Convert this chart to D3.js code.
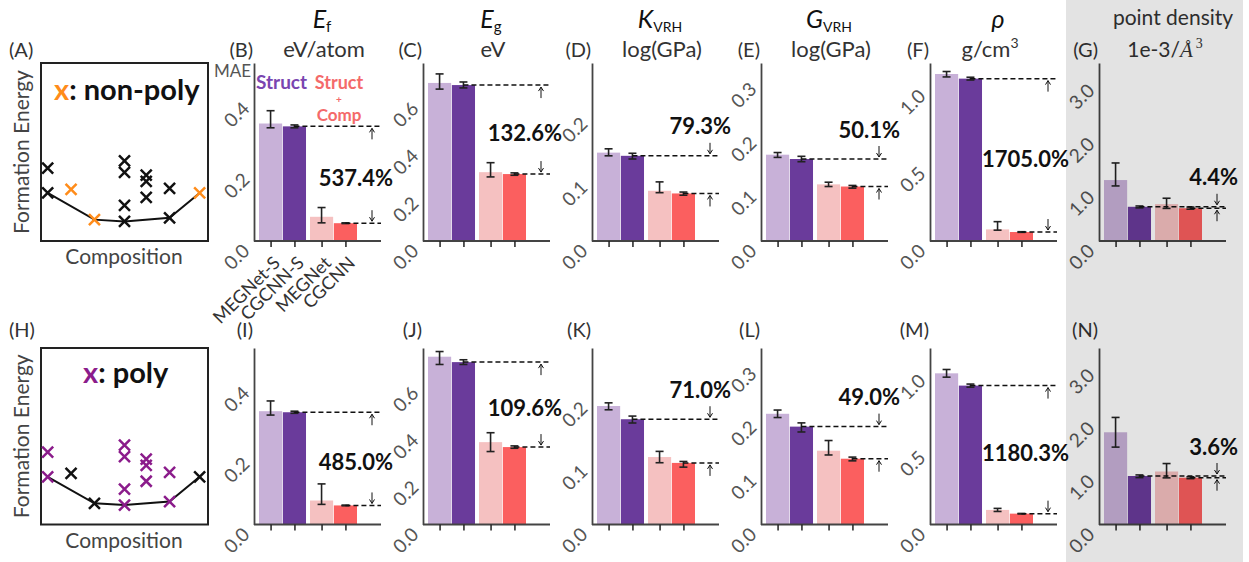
<!DOCTYPE html>
<html>
<head>
<meta charset="utf-8">
<script src="https://cdn.jsdelivr.net/npm/d3@7"></script>
<style>
  body { margin: 0; background: #fff; }
  text { font-family: Lato, "Open Sans", sans-serif; }
</style>
</head>
<body>
<script>
const width = 1249;
const height = 562;

// models and their groups
const models = ["MEGNet-S", "CGCNN-S", "MEGNet", "CGCNN"];
const modelGroups = ["Struct", "Struct", "Struct+Comp", "Struct+Comp"];
const barColors = ["#c8b1d8", "#6a3b9b", "#f5c1c1", "#fb5f5f"];

// per property axis setup
const lettersTop = ["B", "C", "D", "E", "F", "G"];
const lettersBottom = ["I", "J", "K", "L", "M", "N"];
const yMax = [0.5, 0.75, 0.28, 0.33, 1.15, 3.33];
const yTicks = [[0, 0.2, 0.4], [0, 0.2, 0.4, 0.6], [0, 0.1, 0.2], [0, 0.1, 0.2, 0.3], [0, 0.5, 1.0], [0, 1, 2, 3]];

// MAE, non-polymorph test set (top row)
const maeNonPoly = [
  [0.330, 0.322, 0.068, 0.050],
  [0.666, 0.657, 0.290, 0.282],
  [0.139, 0.134, 0.079, 0.0748],
  [0.160, 0.152, 0.105, 0.101],
  [1.079, 1.049, 0.075, 0.058],
  [1.14, 0.64, 0.69, 0.613]
];
const errLowNonPoly = [
  [0.318, 0.318, 0.051, 0.049],
  [0.640, 0.645, 0.270, 0.277],
  [0.134, 0.129, 0.076, 0.072],
  [0.155, 0.147, 0.101, 0.098],
  [1.060, 1.040, 0.070, 0.056],
  [1.03, 0.62, 0.61, 0.595]
];
const errHighNonPoly = [
  [0.366, 0.326, 0.094, 0.051],
  [0.704, 0.670, 0.330, 0.287],
  [0.145, 0.138, 0.093, 0.077],
  [0.164, 0.157, 0.109, 0.103],
  [1.095, 1.058, 0.125, 0.060],
  [1.46, 0.655, 0.80, 0.635]
];
const pctNonPoly = ["537.4%", "132.6%", "79.3%", "50.1%", "1705.0%", "4.4%"];

// MAE, polymorph test set (bottom row)
const maePoly = [
  [0.321, 0.318, 0.068, 0.054],
  [0.713, 0.690, 0.350, 0.329],
  [0.188, 0.167, 0.107, 0.0977],
  [0.207, 0.183, 0.138, 0.123],
  [0.985, 0.905, 0.095, 0.0707],
  [1.74, 0.915, 1.00, 0.883]
];
const errLowPoly = [
  [0.310, 0.315, 0.057, 0.053],
  [0.680, 0.680, 0.310, 0.324],
  [0.182, 0.161, 0.098, 0.091],
  [0.200, 0.173, 0.130, 0.119],
  [0.960, 0.895, 0.085, 0.069],
  [1.46, 0.885, 0.88, 0.865]
];
const errHighPoly = [
  [0.350, 0.321, 0.115, 0.055],
  [0.735, 0.700, 0.390, 0.334],
  [0.193, 0.172, 0.116, 0.100],
  [0.214, 0.190, 0.157, 0.126],
  [1.010, 0.915, 0.105, 0.072],
  [2.02, 0.935, 1.15, 0.90]
];
const pctPoly = ["485.0%", "109.6%", "71.0%", "49.0%", "1180.3%", "3.6%"];

// schematic convex hull points (composition, formation energy, is polymorph)
const hullComp = [0.04, 0.04, 0.18, 0.32, 0.50, 0.50, 0.50, 0.50, 0.63, 0.63, 0.63, 0.77, 0.77, 0.95];
const hullEnergy = [0.41, 0.27, 0.29, 0.12, 0.45, 0.385, 0.20, 0.11, 0.37, 0.335, 0.245, 0.295, 0.13, 0.27];
const hullPoly = [1, 1, 0, 0, 1, 1, 1, 1, 1, 1, 1, 1, 1, 0];

// layout
const rows = [{ top: 63, base: 241 }, { top: 348, base: 524.5 }];
const panelX0 = 254, panelStep = 169, panelW = 127;

const svg = d3.select("body").append("svg").attr("width", width).attr("height", height);

function arrow(g, x, y1, y2) {
  const dir = Math.sign(y2 - y1);
  g.append("line").attr("x1", x).attr("x2", x).attr("y1", y1).attr("y2", y2)
    .attr("stroke", "#111").attr("stroke-width", 1);
  g.append("path").attr("d", `M${x - 2.5},${y2 - dir * 4}L${x},${y2}L${x + 2.5},${y2 - dir * 4}`)
    .attr("fill", "none").attr("stroke", "#111").attr("stroke-width", 1);
}

function drawPanel(r, p, vals, lo, hi, pct) {
  const top = rows[r].top, base = rows[r].base;
  const g = svg.append("g").attr("transform", `translate(${panelX0 + p * panelStep},0)`);

  const y = d3.scaleLinear().domain([0, yMax[p]]).range([base, top]);
  const xOuter = d3.scaleBand().domain(["Struct", "Struct+Comp"]).range([5, 103]).paddingInner(0.078);
  const xInner = d3.scaleBand().domain([0, 1]).range([0, xOuter.bandwidth()]).paddingInner(0.03);
  const bw = xInner.bandwidth();
  const barX = i => xOuter(modelGroups[i]) + xInner(i % 2);
  const cx = i => barX(i) + bw / 2;

  g.selectAll("rect.bar").data(vals).enter().append("rect")
    .attr("class", "bar")
    .attr("x", (d, i) => barX(i))
    .attr("y", d => y(d))
    .attr("width", bw)
    .attr("height", d => base - y(d))
    .attr("fill", (d, i) => barColors[i]);

  // error bars
  models.forEach((m, i) => {
    const x = cx(i);
    g.append("line").attr("x1", x).attr("x2", x).attr("y1", y(lo[i])).attr("y2", y(hi[i]))
      .attr("stroke", "#222").attr("stroke-width", 1.6);
    [lo[i], hi[i]].forEach(v => {
      g.append("line").attr("x1", x - 4).attr("x2", x + 4).attr("y1", y(v)).attr("y2", y(v))
        .attr("stroke", "#222").attr("stroke-width", 1.6);
    });
  });

  // y axis
  const yAxis = g.append("g")
    .call(d3.axisLeft(y).tickValues(yTicks[p]).tickSize(0).tickSizeOuter(0).tickFormat(d3.format(".1f")));
  yAxis.select(".domain").attr("stroke", "#444").attr("stroke-width", 1.8);
  yAxis.selectAll("text")
    .attr("x", 0).attr("dy", 0)
    .attr("text-anchor", "end")
    .attr("dominant-baseline", "hanging")
    .attr("transform", "translate(-14,0) rotate(-45)")
    .attr("font-size", "19px")
    .attr("font-family", "Lato, sans-serif")
    .attr("fill", "#555");

  // x axis
  const xPos = d3.scaleOrdinal().domain(models).range(models.map((m, i) => cx(i)));
  g.append("line").attr("x1", 0).attr("x2", panelW).attr("y1", base).attr("y2", base)
    .attr("stroke", "#444").attr("stroke-width", 1.8);
  const xAxis = g.append("g").attr("transform", `translate(0,${base})`)
    .call(d3.axisBottom(xPos).tickSize(6).tickSizeOuter(0));
  xAxis.select(".domain").remove();
  xAxis.selectAll("line").attr("stroke", "#222").attr("stroke-width", 1.5);
  if (r === 0 && p === 0) {
    xAxis.selectAll("text")
      .attr("y", 0).attr("dy", 0)
      .attr("text-anchor", "end")
      .attr("dominant-baseline", "hanging")
      .attr("transform", "translate(0,13) rotate(-45)")
      .attr("font-size", "18px")
      .attr("font-family", "Lato, sans-serif")
      .attr("fill", "#333");
  } else {
    xAxis.selectAll("text").remove();
  }

  // reference lines + improvement annotation
  const yTop = y(vals[1]), yBot = y(vals[3]);
  g.append("line").attr("x1", cx(1)).attr("x2", panelW).attr("y1", yTop).attr("y2", yTop)
    .attr("stroke", "#111").attr("stroke-width", 1.5).attr("stroke-dasharray", "5,3");
  g.append("line").attr("x1", cx(3)).attr("x2", panelW).attr("y1", yBot).attr("y2", yBot)
    .attr("stroke", "#111").attr("stroke-width", 1.5).attr("stroke-dasharray", "5,3");
  const ax = panelW - 9;
  const inside = (yBot - yTop) > 50;
  let labelY;
  if (inside) {
    arrow(g, ax, yTop + 13, yTop + 2);
    arrow(g, ax, yBot - 13, yBot - 2);
    labelY = (yTop + yBot) / 2 + 6;
  } else {
    arrow(g, ax, yTop - 13, yTop - 2);
    arrow(g, ax, yBot + 13, yBot + 2);
    labelY = yTop - 27;
  }
  g.append("text").attr("x", panelW + 12).attr("y", labelY)
    .attr("text-anchor", "end").attr("dominant-baseline", "middle")
    .attr("font-size", "22px").attr("font-weight", "bold").attr("fill", "#111")
    .text(pct);

  // panel letter
  g.append("text").attr("x", -1).attr("y", r === 0 ? 57 : 337)
    .attr("text-anchor", "end").attr("font-size", "20px").attr("fill", "#333")
    .text("(" + (r === 0 ? lettersTop[p] : lettersBottom[p]) + ")");
  return g;
}

for (let p = 0; p < 6; p++) {
  drawPanel(0, p, maeNonPoly[p], errLowNonPoly[p], errHighNonPoly[p], pctNonPoly[p]);
  drawPanel(1, p, maePoly[p], errLowPoly[p], errHighPoly[p], pctPoly[p]);
}

// titles for the top row
const serif = "'Liberation Serif', 'DejaVu Serif', serif";
function title(p) {
  const t = svg.append("text").attr("x", panelX0 + p * panelStep + 68).attr("y", 28)
    .attr("text-anchor", "middle").attr("fill", "#111");
  return t;
}
let t = title(0).attr("font-family", serif).attr("font-size", "25px");
t.append("tspan").attr("font-style", "italic").text("E");
t.append("tspan").attr("font-size", "15px").attr("dy", 4).text("f");
t = title(1).attr("font-family", serif).attr("font-size", "25px");
t.append("tspan").attr("font-style", "italic").text("E");
t.append("tspan").attr("font-size", "15px").attr("dy", 4).text("g");
t = title(2).attr("font-family", serif).attr("font-size", "25px");
t.append("tspan").attr("font-style", "italic").text("K");
t.append("tspan").attr("font-size", "14px").attr("dy", 4).text("VRH");
t = title(3).attr("font-family", serif).attr("font-size", "25px");
t.append("tspan").attr("font-style", "italic").text("G");
t.append("tspan").attr("font-size", "14px").attr("dy", 4).text("VRH");
t = title(4).attr("font-family", serif).attr("font-size", "25px");
t.append("tspan").attr("font-style", "italic").text("ρ");
title(5).attr("y", 25).attr("font-size", "21px").attr("fill", "#333").attr("dx", 6).text("point density");

const units = ["eV/atom", "eV", "log(GPa)", "log(GPa)"];
units.forEach((u, p) => {
  svg.append("text").attr("x", panelX0 + p * panelStep + 70).attr("y", 57)
    .attr("text-anchor", "middle").attr("font-size", "22px").attr("fill", "#333").text(u);
});
t = svg.append("text").attr("x", panelX0 + 4 * panelStep + 60).attr("y", 57)
  .attr("text-anchor", "middle").attr("font-size", "22px").attr("fill", "#333");
t.append("tspan").text("g/cm");
t.append("tspan").attr("font-size", "14px").attr("dy", -9).text("3");
t = svg.append("text").attr("x", panelX0 + 5 * panelStep + 66).attr("y", 57)
  .attr("text-anchor", "middle").attr("font-size", "21px").attr("fill", "#333");
t.append("tspan").text("1e-3/");
t.append("tspan").attr("font-family", serif).attr("font-style", "italic").text("Å");
t.append("tspan").attr("font-family", serif).attr("font-size", "14px").attr("dy", -9).attr("dx", 3).text("3");

// MAE label and legend in panel B
svg.append("text").attr("x", 251).attr("y", 77).attr("text-anchor", "end")
  .attr("font-size", "17px").attr("fill", "#555").text("MAE");
svg.append("text").attr("x", 256).attr("y", 89).attr("font-size", "19px").attr("font-weight", "bold")
  .attr("fill", "#7a45b0").text("Struct");
svg.append("text").attr("x", 339).attr("y", 89).attr("text-anchor", "middle").attr("font-size", "18px")
  .attr("font-weight", "bold").attr("fill", "#f46a6a").text("Struct");
svg.append("text").attr("x", 339).attr("y", 103).attr("text-anchor", "middle").attr("font-size", "10px")
  .attr("font-weight", "bold").attr("fill", "#f46a6a").text("+");
svg.append("text").attr("x", 339).attr("y", 121).attr("text-anchor", "middle").attr("font-size", "17px")
  .attr("font-weight", "bold").attr("fill", "#f46a6a").text("Comp");

// convex hull schematics (A) and (H)
function drawHull(r, letter, highlightPoly, hiColor, label) {
  const top = rows[r].top, base = rows[r].base;
  const g = svg.append("g");
  const xs = d3.scaleLinear().domain([0, 1]).range([41, 208]);
  const ys = d3.scaleLinear().domain([0, 1]).range([base, top]);

  g.append("rect").attr("x", 41).attr("y", top).attr("width", 167).attr("height", base - top)
    .attr("fill", "none").attr("stroke", "#222").attr("stroke-width", 2);

  // lower convex hull
  const pts = hullComp.map((c, i) => [c, hullEnergy[i]]).sort((a, b) => a[0] - b[0] || a[1] - b[1]);
  const lower = [];
  pts.forEach(pt => {
    while (lower.length >= 2) {
      const a = lower[lower.length - 2], b = lower[lower.length - 1];
      const cross = (b[0] - a[0]) * (pt[1] - a[1]) - (b[1] - a[1]) * (pt[0] - a[0]);
      if (cross <= 0) lower.pop(); else break;
    }
    lower.push(pt);
  });
  g.append("path").attr("d", d3.line().x(d => xs(d[0])).y(d => ys(d[1]))(lower))
    .attr("fill", "none").attr("stroke", "#111").attr("stroke-width", 2);

  hullComp.forEach((c, i) => {
    const x = xs(c), y = ys(hullEnergy[i]), s = 5.5;
    const hl = highlightPoly ? hullPoly[i] === 1 : hullPoly[i] === 0;
    g.append("path").attr("d", `M${x - s},${y - s}L${x + s},${y + s}M${x - s},${y + s}L${x + s},${y - s}`)
      .attr("stroke", hl ? hiColor : "#111").attr("stroke-width", 2.5).attr("fill", "none");
  });

  const lt = g.append("text").attr("x", label.x).attr("y", label.y)
    .attr("font-size", "29px").attr("font-weight", "bold").attr("fill", "#111");
  lt.append("tspan").attr("fill", hiColor).text("x");
  lt.append("tspan").text(label.text);

  g.append("text").attr("transform", `translate(29,${(top + base) / 2}) rotate(-90)`)
    .attr("text-anchor", "middle").attr("font-size", "21px").attr("fill", "#444").text("Formation Energy");
  g.append("text").attr("x", 124).attr("y", base + 23).attr("text-anchor", "middle")
    .attr("font-size", "21px").attr("fill", "#444").text("Composition");
  g.append("text").attr("x", 9).attr("y", r === 0 ? 57 : 337)
    .attr("font-size", "20px").attr("fill", "#333").text("(" + letter + ")");
}
drawHull(0, "A", false, "#ff8c1a", { x: 54, y: 100, text: ": non-poly" });
drawHull(1, "H", true, "#8b1c8b", { x: 83, y: 383, text: ": poly" });

// shaded column for point density
svg.append("rect").attr("x", 1066).attr("y", 0).attr("width", 177).attr("height", height)
  .attr("fill", "#000").attr("opacity", 0.108);
</script>
</body>
</html>
